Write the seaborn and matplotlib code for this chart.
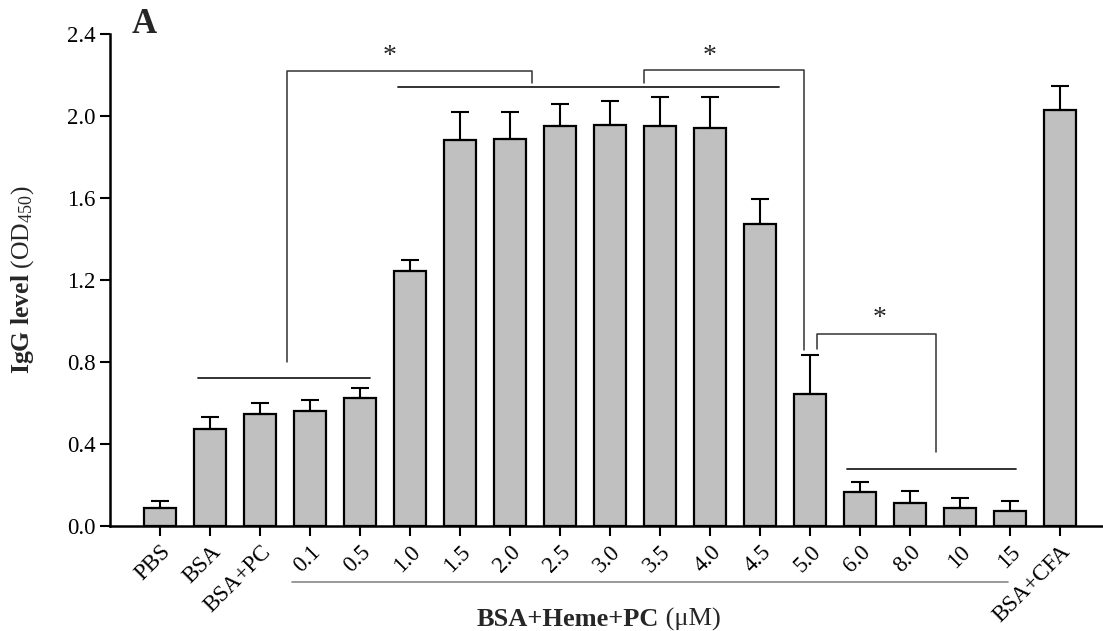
import numpy as np
import seaborn as sns
import matplotlib.pyplot as plt

labels = ["PBS", "BSA", "BSA+PC", "0.1", "0.5", "1.0", "1.5", "2.0", "2.5", "3.0",
          "3.5", "4.0", "4.5", "5.0", "6.0", "8.0", "10", "15", "BSA+CFA"]
means = [0.09, 0.475, 0.545, 0.56, 0.625, 1.245, 1.885, 1.89, 1.95, 1.955,
         1.95, 1.94, 1.475, 0.645, 0.165, 0.11, 0.09, 0.075, 2.03]
errs = [0.03, 0.055, 0.055, 0.055, 0.047, 0.055, 0.135, 0.13, 0.11, 0.12,
        0.145, 0.155, 0.12, 0.19, 0.05, 0.06, 0.047, 0.048, 0.115]
yticks = [0.0, 0.4, 0.8, 1.2, 1.6, 2.0, 2.4]

# group lines (x0, x1, y) and significance brackets
group_lines = [(0.76, 4.2, 0.72), (4.77, 12.38, 2.14), (13.74, 17.13, 0.278)]
brackets = [([2.54, 2.54, 7.45, 7.45], [0.80, 2.22, 2.22, 2.16]),
            ([9.68, 9.68, 12.88, 12.88], [2.16, 2.226, 2.226, 0.86]),
            ([13.15, 13.15, 15.53, 15.53], [0.862, 0.937, 0.937, 0.362])]
stars = [(4.6, 2.23), (11.0, 2.23), (14.4, 0.95)]

sns.set_style("ticks")
plt.rcParams["font.family"] = ["Liberation Serif", "DejaVu Serif"]
plt.rcParams["mathtext.fontset"] = "custom"
plt.rcParams["mathtext.rm"] = "Liberation Serif"
plt.rcParams["mathtext.bf"] = "Liberation Serif:bold"
plt.rcParams["mathtext.it"] = "Liberation Serif:italic"

fig = plt.figure(figsize=(11.03, 6.31), dpi=100)
ax = fig.add_axes([0.0997, 0.1664, 0.9003, 0.7797])

sns.barplot(x=labels, y=means, order=labels, color="#c0c0c0", saturation=1,
            edgecolor="black", linewidth=1.6, width=0.64, errorbar=None, ax=ax)
n = len(labels)
ax.errorbar(np.arange(n), means, yerr=[np.zeros(n), errs], fmt="none",
            ecolor="black", elinewidth=1.5, capsize=6.5, capthick=1.5, zorder=3)

for x0, x1, y in group_lines:
    ax.plot([x0, x1], [y, y], color="#222222", lw=1.3)
for bx, by in brackets:
    ax.plot(bx, by, color="#333333", lw=1.1)
for sx, sy in stars:
    ax.text(sx, sy, "*", ha="center", va="bottom", fontsize=20)

# line under the concentration group labels
ax.plot([2.64, 16.96], [-0.272, -0.272], color="#888888", lw=1.2, clip_on=False)

ax.set_xlim(-1, 18.86)
ax.set_ylim(0, 2.4)
ax.set_yticks(yticks)
ax.set_yticklabels([f"{v:.1f}" for v in yticks])
ax.set_xticks(range(n))
ax.set_xticklabels(labels, rotation=45, ha="right", rotation_mode="anchor")
ax.tick_params(axis="both", direction="out", length=7, width=1.5, labelsize=16.5, colors="black")
ax.tick_params(axis="x", pad=4)
for s in ["left", "bottom"]:
    ax.spines[s].set_linewidth(1.8)
    ax.spines[s].set_color("black")
sns.despine(ax=ax)

ax.set_xlabel("")
ax.set_ylabel(r"$\mathbf{IgG\ level}$ (OD$_{450}$)", fontsize=18.5)
ax.yaxis.set_label_coords(-0.074, 0.5)

t1 = fig.text(0.4325, 0.0084, "BSA+Heme+PC", fontsize=19, fontweight="bold",
              ha="left", va="baseline")
ax.annotate(" (\u03bcM)", xy=(1, 0), xycoords=t1, va="bottom", ha="left", fontsize=19)

fig.text(0.119, 0.948, "A", fontsize=25, fontweight="bold", ha="left", va="baseline")

fig.savefig("out.png", dpi=100)
